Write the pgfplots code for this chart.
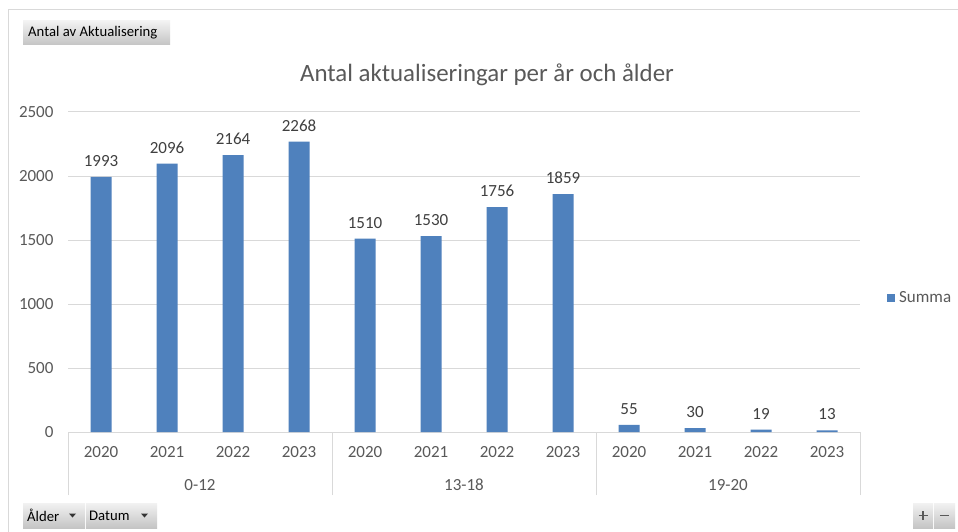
\documentclass[border=0pt]{standalone}
\usepackage{pgfplots}
\pgfplotsset{compat=1.18}
\usepackage{fontspec}
\setmainfont{Carlito}
\definecolor{barblue}{HTML}{4F81BD}
\definecolor{gridgray}{HTML}{D9D9D9}
\definecolor{txtgray}{HTML}{595959}
\definecolor{lbl}{HTML}{404040}
\definecolor{btntop}{HTML}{F2F2F2}
\definecolor{btnbot}{HTML}{C4C4C4}
\begin{document}
\begin{tikzpicture}[x=1pt,y=1pt]
\path[use as bounding box, fill=white] (0,0) rectangle (958,531);
\draw[gridgray, line width=1pt] (8.5,-10) rectangle (975,521);
% pivot field buttons
\shade[top color=btntop, bottom color=btnbot] (23,486) rectangle (170,510);
\node[anchor=west, inner sep=0pt, font=\fontsize{14.7}{17}\selectfont] at (28,498) {Antal av Aktualisering};
\shade[top color=btntop, bottom color=btnbot] (23,3) rectangle (85,28);
\shade[top color=btntop, bottom color=btnbot] (86,3) rectangle (157,28);
\node[anchor=west, inner sep=0pt, font=\fontsize{14.7}{17}\selectfont] at (27,15.5) {Ålder};
\fill[black!80] (69,17.5) -- (76,17.5) -- (72.5,13.5) -- cycle;
\node[anchor=west, inner sep=0pt, font=\fontsize{14.7}{17}\selectfont] at (89,15.5) {Datum};
\fill[black!80] (141,17.5) -- (148,17.5) -- (144.5,13.5) -- cycle;
\shade[top color=btntop, bottom color=btnbot] (913,3) rectangle (933,28);
\shade[top color=btntop, bottom color=btnbot] (934,3) rectangle (955,28);
\draw[black!65, line width=1.6pt] (918.5,15.5) -- (927.5,15.5) (923,11) -- (923,20);
\draw[black!65, line width=1.6pt] (940,15.5) -- (949,15.5);
% title
\node[txtgray, inner sep=0pt, font=\fontsize{24.9}{28}\selectfont] at (487,456) {Antal aktualiseringar per år och ålder};
\begin{axis}[
  at={(68pt,99pt)}, anchor=south west,
  scale only axis, width=792pt, height=320pt,
  ybar, bar width=21pt,
  xmin=-0.5, xmax=11.5, ymin=0, ymax=2500,
  ytick={0,500,1000,1500,2000,2500},
  xtick={0,...,11},
  xticklabels={2020,2021,2022,2023,2020,2021,2022,2023,2020,2021,2022,2023},
  axis lines*=left,
  x axis line style={gridgray, line width=1pt},
  y axis line style={draw=none},
  ymajorgrids, grid style={gridgray, line width=1pt},
  major tick length=0pt,
  /pgf/number format/assume math mode=true,
  /pgf/number format/set thousands separator={},
  tick label style={txtgray, font=\fontsize{17}{20}\selectfont},
  yticklabel style={xshift=-11pt},
  xticklabel style={yshift=-11pt},
  extra x ticks={-0.5,3.5,7.5,11.5},
  extra x tick labels={},
  extra x tick style={major tick length=63pt, tick align=outside,
     tick style={gridgray, line width=1pt}},
  nodes near coords,
  every node near coord/.append style={lbl, font=\fontsize{17}{20}\selectfont, yshift=7pt},
  legend style={at={(1.034,0.419)}, anchor=west, draw=none, fill=none,
     font=\fontsize{17}{20}\selectfont, text=txtgray, inner sep=0pt,
     nodes={inner xsep=4pt}},
  legend image code/.code={\fill[#1] (0pt,-4pt) rectangle (8pt,4pt);},
  clip=false,
]
\addplot[fill=barblue, draw=none] coordinates {
 (0,1993) (1,2096) (2,2164) (3,2268)
 (4,1510) (5,1530) (6,1756) (7,1859)
 (8,55) (9,30) (10,19) (11,13)};
\addlegendentry{Summa}
\node[txtgray, font=\fontsize{17}{20}\selectfont] at (axis cs:1.5,0) [yshift=-53pt] {0-12};
\node[txtgray, font=\fontsize{17}{20}\selectfont] at (axis cs:5.5,0) [yshift=-53pt] {13-18};
\node[txtgray, font=\fontsize{17}{20}\selectfont] at (axis cs:9.5,0) [yshift=-53pt] {19-20};
\end{axis}
\end{tikzpicture}
\end{document}
